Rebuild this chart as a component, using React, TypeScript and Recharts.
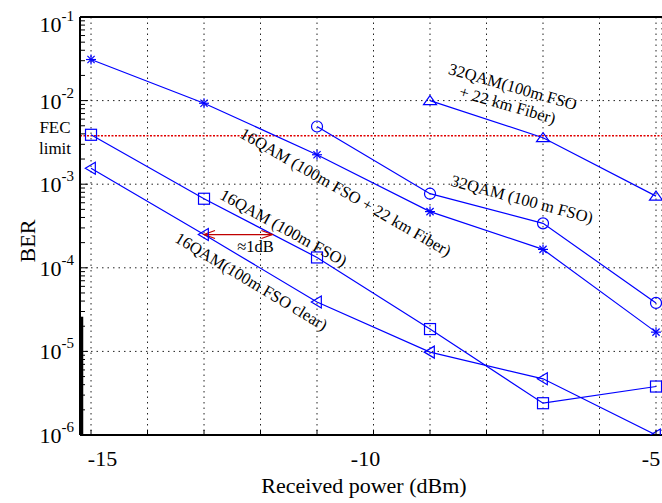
import { LineChart, Line, XAxis, YAxis, CartesianGrid, ReferenceLine, ReferenceDot } from 'recharts';

// received power (dBm) per series
const powerFull = [-15, -13, -11, -9, -7, -5];
const power32Fso = [-11, -9, -7, -5];
const power32Fiber = [-9, -7, -5];

// BER values
const ber16FsoFiber = [3.1e-2, 9.3e-3, 2.25e-3, 4.7e-4, 1.66e-4, 1.7e-5];
const ber16Fso = [3.9e-3, 6.7e-4, 1.33e-4, 1.85e-5, 2.4e-6, 3.8e-6];
const ber16Clear = [1.55e-3, 2.5e-4, 3.9e-5, 9.8e-6, 4.7e-6, 1.0e-6];
const ber32Fso = [4.9e-3, 7.7e-4, 3.4e-4, 3.8e-5];
const ber32FsoFiber = [1.0e-2, 3.6e-3, 7.2e-4];

const fecLimit = 3.8e-3;

const xTicks = [-15, -14, -13, -12, -11, -10, -9, -8, -7, -6, -5];
const xLabels = [-15, -10, -5];
const decades = [1e-6, 1e-5, 1e-4, 1e-3, 1e-2, 1e-1];
const yTicks = decades.flatMap((d, i) =>
  i === decades.length - 1 ? [d] : [1, 2, 3, 4, 5, 6, 7, 8, 9].map((m) => m * d)
);

const FONT = '"Liberation Serif", "DejaVu Serif", serif';
const BLUE = '#0000ff';
const X_DOMAIN: [number, number] = [-15.195, -4.894];

const toPoints = (xs: number[], ys: number[]) => xs.map((x, i) => ({ x, ber: ys[i] }));

type Kind = 'star' | 'circle' | 'square' | 'up' | 'left';

function Marker({ cx, cy, kind }: { cx: number; cy: number; kind: Kind }) {
  const p = { stroke: BLUE, strokeWidth: 1.2, fill: 'none' };
  if (kind === 'star') {
    return (
      <g {...p}>
        <line x1={cx - 5} y1={cy} x2={cx + 5} y2={cy} />
        <line x1={cx} y1={cy - 5} x2={cx} y2={cy + 5} />
        <line x1={cx - 3.6} y1={cy - 3.6} x2={cx + 3.6} y2={cy + 3.6} />
        <line x1={cx - 3.6} y1={cy + 3.6} x2={cx + 3.6} y2={cy - 3.6} />
      </g>
    );
  }
  if (kind === 'circle') return <circle cx={cx} cy={cy} r={5.5} {...p} />;
  if (kind === 'square') return <rect x={cx - 5.5} y={cy - 5.5} width={11} height={11} {...p} />;
  if (kind === 'up')
    return <polygon points={`${cx},${cy - 5} ${cx + 6.5},${cy + 4} ${cx - 6.5},${cy + 4}`} {...p} />;
  return <polygon points={`${cx - 5.7},${cy} ${cx + 4.3},${cy - 6} ${cx + 4.3},${cy + 6}`} {...p} />;
}

const dotOf = (kind: Kind) => (props: any) =>
  <Marker key={`${kind}-${props.index}`} cx={props.cx} cy={props.cy} kind={kind} />;

// label offsets as they sit in the original figure
const xLabelShift: Record<number, number> = { [-15]: 11.5, [-10]: -8, [-5]: -5 };

function XTick(props: any) {
  const { x, y, payload } = props;
  const v = payload.value;
  return (
    <g>
      <line x1={x} y1={y} x2={x} y2={y - 5} stroke="#000" strokeWidth={1} />
      {xLabels.includes(v) && (
        <text x={x + (xLabelShift[v] || 0)} y={y + 31} textAnchor="middle" fontFamily={FONT} fontSize={22} fill="#000">
          {v}
        </text>
      )}
    </g>
  );
}

function YTick(props: any) {
  const { x, y, payload } = props;
  const v = payload.value;
  const e = Math.floor(Math.log10(v) + 1e-9);
  const major = Math.abs(v / Math.pow(10, e) - 1) < 1e-6;
  if (!major) return <line x1={x} y1={y} x2={x + 5} y2={y} stroke="#000" strokeWidth={1} />;
  const base = y + (e === -1 ? 15 : 8);
  return (
    <g>
      <line x1={x} y1={y} x2={x + 8} y2={y} stroke="#000" strokeWidth={1} />
      <text x={74} y={base} textAnchor="end" fontFamily={FONT} fontSize={22} fill="#000">
        10
        <tspan dy={-11} fontSize={15}>{e}</tspan>
      </text>
    </g>
  );
}

function Note({ viewBox, lines, angle, size = 16.5, gap = 19 }: any) {
  const cx = viewBox.x + (viewBox.width || 0) / 2;
  const cy = viewBox.y + (viewBox.height || 0) / 2;
  const first = -((lines.length - 1) * gap) / 2;
  return (
    <text transform={`rotate(${angle}, ${cx}, ${cy})`} textAnchor="middle" fontFamily={FONT} fontSize={size} fill="#000">
      {lines.map((t: string, i: number) => (
        <tspan key={i} x={cx} y={cy + first + i * gap} dy="0.35em">
          {t}
        </tspan>
      ))}
    </text>
  );
}

const note = (lines: string[], angle: number) => (props: any) => <Note viewBox={props.viewBox} lines={lines} angle={angle} />;

function Arrow(props: any) {
  const { x1, y1, x2 } = props;
  const c = '#c00000';
  return (
    <g stroke={c} strokeWidth={1.2} fill="none">
      <line x1={x1} y1={y1} x2={x2} y2={y1} />
      <polyline points={`${x1 + 11},${y1 - 4} ${x1},${y1} ${x1 + 11},${y1 + 4}`} />
      <polyline points={`${x2 - 11},${y1 - 4} ${x2},${y1} ${x2 - 11},${y1 + 4}`} />
    </g>
  );
}

function ThickEdge(props: any) {
  const { x1, y1, y2 } = props;
  return <line x1={x1 + 1.5} y1={y1} x2={x1 + 1.5} y2={y2} stroke="#000" strokeWidth={3.5} />;
}

export default function App() {
  const grid = { stroke: '#222', strokeWidth: 1, strokeDasharray: '1.5 4' };
  return (
    <div style={{ position: 'absolute', left: 0, top: 0, width: 662, height: 503, background: '#fff' }}>
      <LineChart width={662} height={503} margin={{ top: 17, right: 0, bottom: 0, left: 0 }} style={{ fontFamily: FONT }}>
        <CartesianGrid horizontal={false} {...grid} />
        {decades.slice(1, -1).map((d) => (
          <ReferenceLine key={d} y={d} {...grid} />
        ))}
        <XAxis
          type="number"
          dataKey="x"
          domain={X_DOMAIN}
          allowDataOverflow
          ticks={xTicks}
          interval={0}
          height={68}
          tickSize={0}
          tickMargin={0}
          tickLine={false}
          tick={<XTick />}
          axisLine={{ stroke: '#000', strokeWidth: 2 }}
          label={(p: any) => (
            <text x={p.viewBox.x + p.viewBox.width / 2 - 7} y={493} textAnchor="middle" fontFamily={FONT} fontSize={22} fill="#000">
              Received power (dBm)
            </text>
          )}
        />
        <YAxis
          scale="log"
          domain={[1e-6, 1e-1]}
          allowDataOverflow
          ticks={yTicks}
          interval={0}
          width={80}
          tickSize={0}
          tickMargin={0}
          tickLine={false}
          tick={<YTick />}
          axisLine={{ stroke: '#000', strokeWidth: 2 }}
          label={() => (
            <text x={35} y={241} transform="rotate(-90, 35, 241)" textAnchor="middle" fontFamily={FONT} fontSize={22} fill="#000">
              BER
            </text>
          )}
        />
        <ReferenceLine y={1e-1} stroke="#000" strokeWidth={2} />
        <ReferenceLine
          segment={[{ x: X_DOMAIN[0], y: 1e-6 }, { x: X_DOMAIN[0], y: 2.6e-5 }]}
          shape={<ThickEdge />}
        />
        <ReferenceLine
          y={fecLimit}
          stroke="#e00000"
          strokeWidth={1.5}
          strokeDasharray="2 1.5"
          label={(p: any) => (
            <text textAnchor="middle" fontFamily={FONT} fontSize={17} fill="#000">
              <tspan x={55} y={p.viewBox.y - 2.5}>FEC</tspan>
              <tspan x={55} y={p.viewBox.y + 18}>limit</tspan>
            </text>
          )}
        />
        <Line data={toPoints(powerFull, ber16FsoFiber)} dataKey="ber" type="linear" stroke={BLUE} strokeWidth={1.2} dot={dotOf('star')} activeDot={false} isAnimationActive={false} />
        <Line data={toPoints(power32Fso, ber32Fso)} dataKey="ber" type="linear" stroke={BLUE} strokeWidth={1.2} dot={dotOf('circle')} activeDot={false} isAnimationActive={false} />
        <Line data={toPoints(power32Fiber, ber32FsoFiber)} dataKey="ber" type="linear" stroke={BLUE} strokeWidth={1.2} dot={dotOf('up')} activeDot={false} isAnimationActive={false} />
        <Line data={toPoints(powerFull, ber16Fso)} dataKey="ber" type="linear" stroke={BLUE} strokeWidth={1.2} dot={dotOf('square')} activeDot={false} isAnimationActive={false} />
        <Line data={toPoints(powerFull, ber16Clear)} dataKey="ber" type="linear" stroke={BLUE} strokeWidth={1.2} dot={dotOf('left')} activeDot={false} isAnimationActive={false} />
        <ReferenceLine segment={[{ x: -13, y: 2.5e-4 }, { x: -11.79, y: 2.5e-4 }]} shape={<Arrow />} />
        <ReferenceDot x={-10.49} y={8.1e-4} r={0} stroke="none" label={note(['16QAM (100m FSO + 22 km Fiber)'], 30)} />
        <ReferenceDot x={-11.59} y={3.03e-4} r={0} stroke="none" label={note(['16QAM (100m FSO)'], 29)} />
        <ReferenceDot x={-12.16} y={6.9e-5} r={0} stroke="none" label={note(['16QAM(100m FSO clear)'], 31)} />
        <ReferenceDot x={-7.37} y={6.67e-4} r={0} stroke="none" label={note(['32QAM (100 m FSO)'], 15)} />
        <ReferenceDot x={-7.58} y={1.15e-2} r={0} stroke="none" label={note(['32QAM(100m FSO', '+ 22 km Fiber)'], 16)} />
        <ReferenceDot x={-12.09} y={1.79e-4} r={0} stroke="none" label={note(['\u22481dB'], 0)} />
      </LineChart>
    </div>
  );
}
